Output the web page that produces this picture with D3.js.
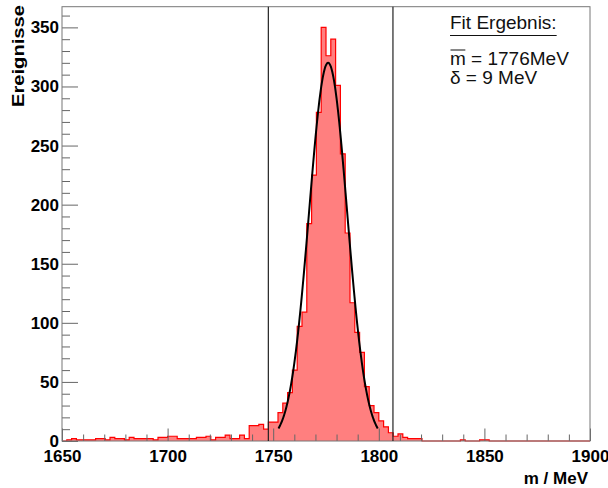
<!DOCTYPE html>
<html>
<head>
<meta charset="utf-8">
<script src="https://cdn.jsdelivr.net/npm/d3@7"></script>
<style>
  body { margin: 0; background: #fff; }
  text { font-family: "Liberation Sans", Arial, sans-serif; }
</style>
</head>
<body>
<script>
// histogram: 110 bins from 1650 to 1900 MeV
var xMin = 1650, xMax = 1900, nBins = 110;
var counts = [
  0, 1, 2, 1, 1, 1, 1, 2, 2, 1,
  3, 2, 2, 1, 3, 2, 2, 2, 2, 1,
  3, 3, 4, 4, 2, 2, 2, 2, 3, 3,
  4, 1, 3, 3, 5, 2, 2, 5, 2, 13,
  13, 14, 10, 16, 16, 24, 32, 41, 60, 97,
  109, 184, 225, 278, 350, 326, 340, 301, 243, 176,
  117, 92, 75, 46, 30, 24, 17, 12, 7, 4,
  6, 3, 2, 2, 2, 0, 0, 0, 0, 0,
  0, 0, 0, 1, 0, 0, 0, 1, 1, 0,
  0, 0, 0, 0, 0, 0, 0, 0, 0, 0,
  0, 0, 0, 0, 0, 0, 0, 0, 0, 0
];

// fit result (gaussian)
var fitMean = 1776, fitSigma = 9, fitAmp = 320;
var fitRange = [1752.5, 1799.7];

// window lines
var cutLines = [1747.7, 1806.7];

var xTicks = [1650, 1700, 1750, 1800, 1850, 1900];
var yTicks = [0, 50, 100, 150, 200, 250, 300, 350];
var boxLines = ["Fit Ergebnis:", "m = 1776MeV", "\u03b4 = 9 MeV"];

var W = 608, H = 488;
var frame = {left: 62, right: 590, top: 6.7, bottom: 441};

var svg = d3.select("body").append("svg")
    .attr("width", W)
    .attr("height", H);

var x = d3.scaleLinear().domain([xMin, xMax]).range([frame.left, frame.right]);
var y = d3.scaleLinear().domain([0, 367.5]).range([frame.bottom, frame.top]);

var binW = (xMax - xMin) / nBins;

// step outline of the histogram
var pts = [[xMin, 0]];
counts.forEach(function(c, i) {
    pts.push([xMin + i * binW, c]);
    pts.push([xMin + (i + 1) * binW, c]);
});
pts.push([xMax, 0]);

var stepLine = d3.line()
    .x(function(d) { return x(d[0]); })
    .y(function(d) { return y(d[1]); });

svg.append("path")
    .attr("d", stepLine(pts) + "Z")
    .attr("fill", "#ff7f7f")
    .attr("stroke", "none");

svg.append("path")
    .attr("d", stepLine(pts))
    .attr("fill", "none")
    .attr("stroke", "#ff0000")
    .attr("stroke-width", 1.2);

// axes (ticks point inward)
var minorX = d3.range(xMin, xMax + 1, 10).filter(function(v) { return v % 50 != 0; });
var minorY = d3.range(0, 367, 10).filter(function(v) { return v % 50 != 0; });

svg.append("g")
    .attr("transform", "translate(0," + frame.bottom + ")")
    .call(d3.axisBottom(x).tickValues(minorX).tickSize(-6.5).tickFormat(""))
    .call(function(g) { g.select(".domain").remove(); });

svg.append("g")
    .attr("class", "xaxis")
    .attr("transform", "translate(0," + frame.bottom + ")")
    .call(d3.axisBottom(x).tickValues(xTicks).tickSize(-12.5).tickPadding(9).tickFormat(d3.format("d")))
    .call(function(g) { g.select(".domain").remove(); });

svg.append("g")
    .attr("transform", "translate(" + frame.left + ",0)")
    .call(d3.axisLeft(y).tickValues(minorY).tickSize(-8).tickFormat(""))
    .call(function(g) { g.select(".domain").remove(); });

svg.append("g")
    .attr("class", "yaxis")
    .attr("transform", "translate(" + frame.left + ",0)")
    .call(d3.axisLeft(y).tickValues(yTicks).tickSize(-16).tickPadding(3).tickFormat(d3.format("d")))
    .call(function(g) { g.select(".domain").remove(); });

svg.selectAll(".tick line").attr("stroke", "#666");
svg.selectAll(".xaxis text, .yaxis text")
    .attr("fill", "#000")
    .style("font-size", "17px")
    .style("font-weight", "bold")
    .style("font-family", "'Liberation Sans', Arial, sans-serif");

// frame
svg.append("rect")
    .attr("x", frame.left)
    .attr("y", frame.top)
    .attr("width", frame.right - frame.left)
    .attr("height", frame.bottom - frame.top)
    .attr("fill", "none")
    .attr("stroke", "#777")
    .attr("stroke-width", 1);

// window lines
svg.selectAll(".cut")
    .data(cutLines)
    .enter()
    .append("line")
    .attr("x1", function(d) { return x(d); })
    .attr("x2", function(d) { return x(d); })
    .attr("y1", frame.top)
    .attr("y2", frame.bottom)
    .attr("stroke", "#222")
    .attr("stroke-width", 1.2);

// fit curve
var fitPts = d3.range(fitRange[0], fitRange[1] + 0.01, 0.25).map(function(m) {
    return [m, fitAmp * Math.exp(-0.5 * Math.pow((m - fitMean) / fitSigma, 2))];
});
svg.append("path")
    .attr("d", d3.line().curve(d3.curveMonotoneX)
        .x(function(d) { return x(d[0]); })
        .y(function(d) { return y(d[1]); })(fitPts))
    .attr("fill", "none")
    .attr("stroke", "#000")
    .attr("stroke-width", 2);

// axis titles
svg.append("text")
    .attr("x", 588)
    .attr("y", 484)
    .attr("text-anchor", "end")
    .style("font-size", "17px")
    .style("font-weight", "bold")
    .text("m / MeV");

svg.append("text")
    .attr("transform", "translate(24,5) rotate(-90)")
    .attr("text-anchor", "end")
    .attr("textLength", 102)
    .attr("lengthAdjust", "spacingAndGlyphs")
    .style("font-size", "16px")
    .style("font-weight", "bold")
    .text("Ereignisse");

// fit result box
var boxY = [28.5, 65, 83.5];
var boxText = svg.selectAll(".box")
    .data(boxLines)
    .enter()
    .append("text")
    .attr("class", "box")
    .attr("x", 450)
    .attr("y", function(d, i) { return boxY[i]; })
    .attr("fill", "#111")
    .style("font-size", "19px")
    .text(function(d) { return d; });

var t0 = boxText.nodes()[0], t1 = boxText.nodes()[1];
svg.append("line")
    .attr("x1", 450).attr("x2", 450 + t0.getComputedTextLength())
    .attr("y1", 35.5).attr("y2", 35.5)
    .attr("stroke", "#111").attr("stroke-width", 1);
svg.append("line")
    .attr("x1", 450.5).attr("x2", 450 + t1.getSubStringLength(0, 1) - 0.5)
    .attr("y1", 50).attr("y2", 50)
    .attr("stroke", "#111").attr("stroke-width", 1);
</script>
</body>
</html>
